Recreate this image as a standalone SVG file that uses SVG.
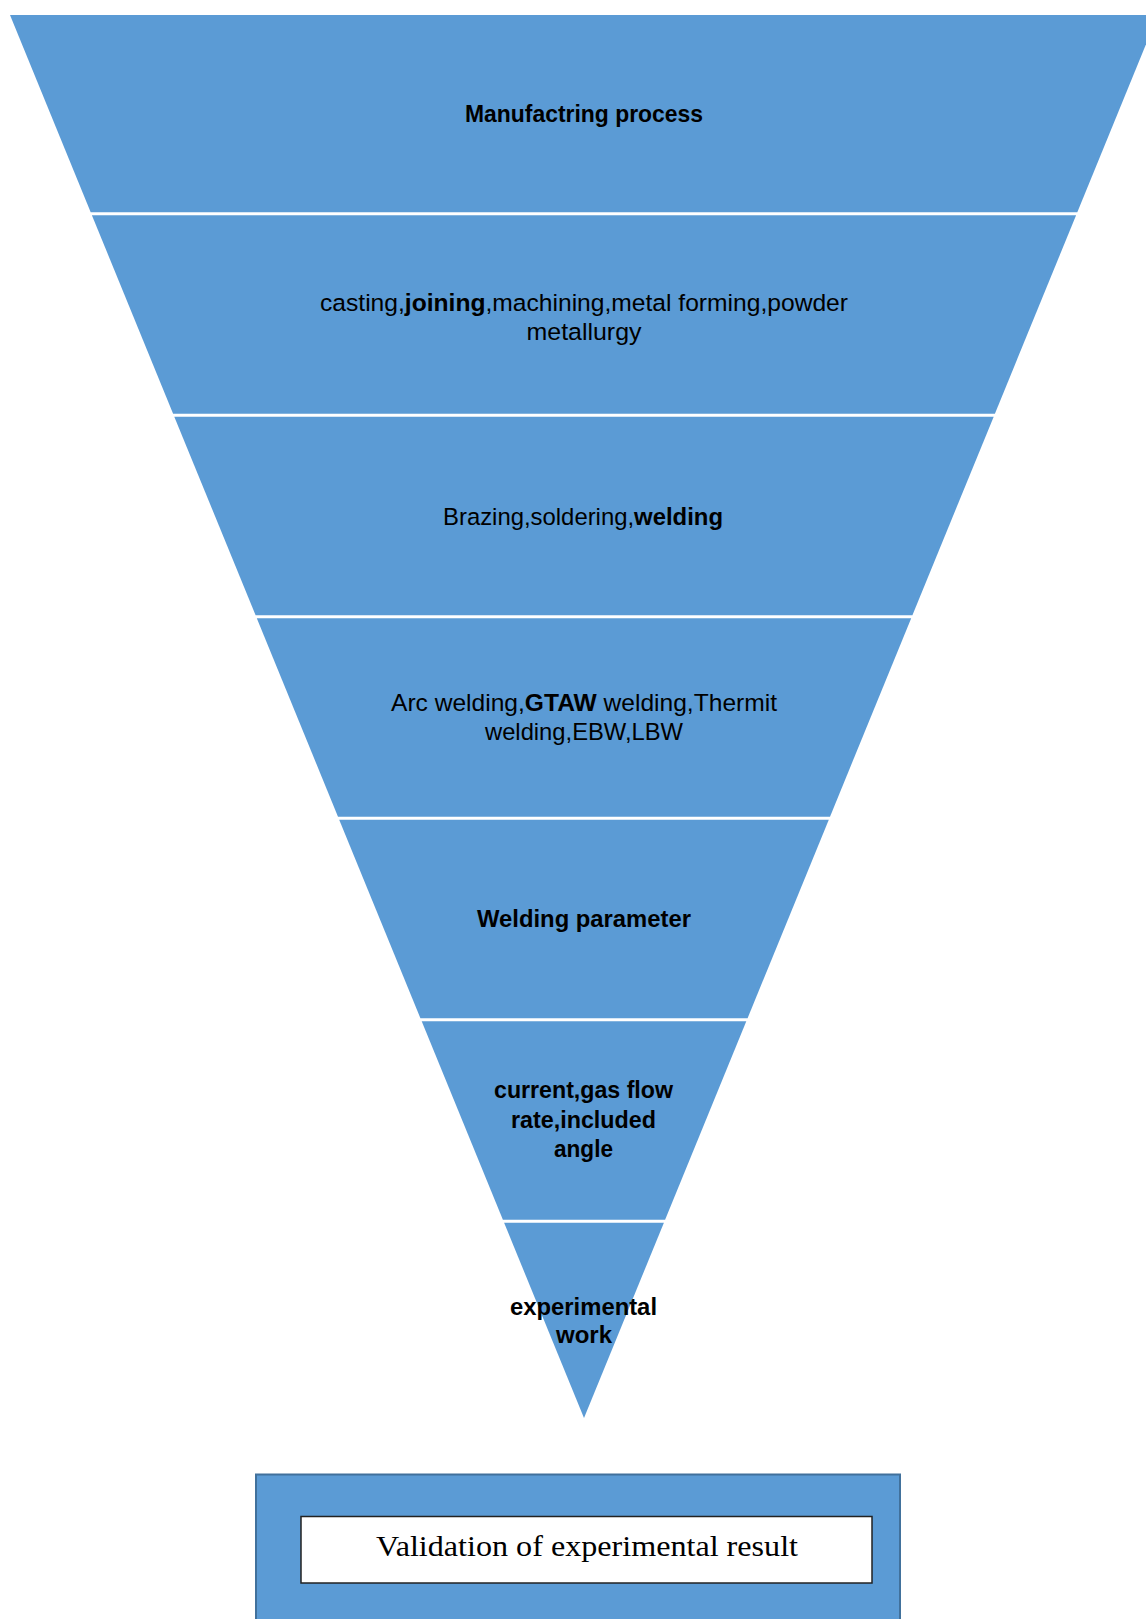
<svg xmlns="http://www.w3.org/2000/svg" width="1146" height="1619" viewBox="0 0 1146 1619">
<style>
.band{fill:#5B9BD5;}
.t{font-family:"Liberation Sans",Arial,sans-serif;font-size:24.5px;fill:#000;text-anchor:middle;}
.b{font-weight:bold;}
.v{font-family:"Liberation Serif","Times New Roman",serif;font-size:30px;fill:#000;text-anchor:middle;}
</style>
<rect width="1146" height="1619" fill="#ffffff"/>
<g id="band1">
<polygon class="band" points="10,15 1158,15 1077.3,212.2 90.7,212.2"/>
<text class="t b" x="584" y="121.7" textLength="238" lengthAdjust="spacingAndGlyphs">Manufactring process</text>
</g>
<g id="band2">
<polygon class="band" points="91.9,215.2 1076.1,215.2 994.9,413.7 173.1,413.7"/>
<text class="t" x="584" y="311" textLength="528" lengthAdjust="spacingAndGlyphs">casting,<tspan class="b">joining</tspan>,machining,metal forming,powder</text>
<text class="t" x="584" y="340" textLength="115" lengthAdjust="spacingAndGlyphs">metallurgy</text>
</g>
<g id="band3">
<polygon class="band" points="174.3,416.7 993.7,416.7 912.4,615.2 255.6,615.2"/>
<text class="t" x="583" y="525" textLength="280" lengthAdjust="spacingAndGlyphs">Brazing,soldering,<tspan class="b">welding</tspan></text>
</g>
<g id="band4">
<polygon class="band" points="256.8,618.2 911.2,618.2 830,816.7 338,816.7"/>
<text class="t" x="584" y="710.7" textLength="386" lengthAdjust="spacingAndGlyphs">Arc welding,<tspan class="b">GTAW</tspan> welding,Thermit</text>
<text class="t" x="584" y="740" textLength="198" lengthAdjust="spacingAndGlyphs">welding,EBW,LBW</text>
</g>
<g id="band5">
<polygon class="band" points="339.2,819.7 828.8,819.7 747.6,1018.2 420.4,1018.2"/>
<text class="t b" x="584" y="927" textLength="214" lengthAdjust="spacingAndGlyphs">Welding parameter</text>
</g>
<g id="band6">
<polygon class="band" points="421.7,1021.2 746.3,1021.2 665.1,1219.7 502.9,1219.7"/>
<text class="t b" x="583.5" y="1098" textLength="179" lengthAdjust="spacingAndGlyphs">current,gas flow</text>
<text class="t b" x="583.5" y="1127.5" textLength="145" lengthAdjust="spacingAndGlyphs">rate,included</text>
<text class="t b" x="583.5" y="1157" textLength="59" lengthAdjust="spacingAndGlyphs">angle</text>
</g>
<g id="band7">
<polygon class="band" points="504.1,1222.7 663.9,1222.7 584,1418"/>
<text class="t b" x="583.5" y="1315" textLength="147" lengthAdjust="spacingAndGlyphs">experimental</text>
<text class="t b" x="584" y="1343" textLength="56" lengthAdjust="spacingAndGlyphs">work</text>
</g>
<g id="validation">
<rect x="256" y="1474.5" width="644" height="200" fill="#5B9BD5" stroke="#41719C" stroke-width="2"/>
<rect x="301" y="1516.5" width="571" height="66.5" fill="#ffffff" stroke="#222222" stroke-width="1.5"/>
<text class="v" x="587" y="1556" textLength="422" lengthAdjust="spacingAndGlyphs">Validation of experimental result</text>
</g>
<g id="connectors"></g>
</svg>
